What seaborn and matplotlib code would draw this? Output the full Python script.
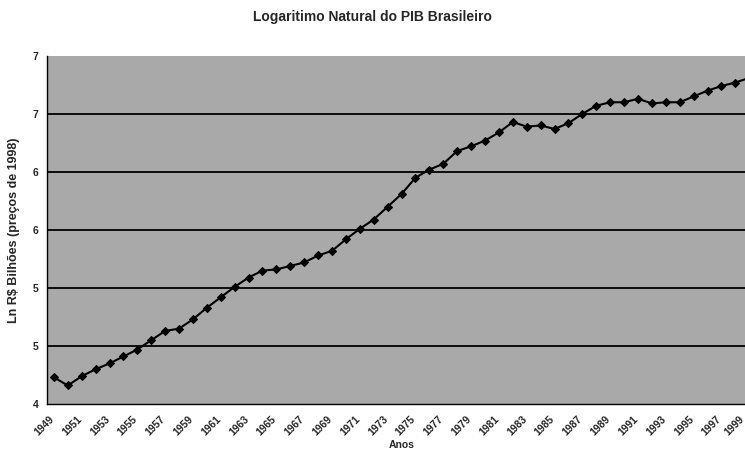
import math
import numpy as np
import pandas as pd
import seaborn as sns
import matplotlib
matplotlib.use("Agg")
import matplotlib.pyplot as plt
from matplotlib.ticker import FuncFormatter, FixedLocator
from matplotlib.transforms import ScaledTranslation

years = list(range(1949, 2000))
ln_pib = [4.23, 4.16, 4.24, 4.30, 4.35, 4.41, 4.47, 4.55, 4.63, 4.65,
          4.73, 4.83, 4.92, 5.01, 5.09, 5.15, 5.16, 5.19, 5.22, 5.28,
          5.32, 5.42, 5.51, 5.59, 5.70, 5.81, 5.95, 6.02, 6.07, 6.18,
          6.22, 6.27, 6.34, 6.43, 6.39, 6.40, 6.37, 6.42, 6.50, 6.57,
          6.60, 6.60, 6.63, 6.59, 6.60, 6.60, 6.65, 6.70, 6.74, 6.77,
          6.81]
y_ticks = [4.0, 4.5, 5.0, 5.5, 6.0, 6.5, 7.0]

df = pd.DataFrame({"ano": years, "ln_pib": ln_pib})

sns.set_style("white")
plt.rcParams['font.family'] = ['Liberation Sans', 'DejaVu Sans']
plt.rcParams['font.weight'] = 'bold'

fig = plt.figure(figsize=(7.45, 4.54), dpi=100)
ax = fig.add_axes([0.063, 0.110, 0.952, 0.767])
ax.set_facecolor('#a9a9a9')

# horizontal grid lines (black, Excel style)
for v in y_ticks[1:-1]:
    ax.axhline(v, color='black', lw=1.3, zorder=1)

sns.lineplot(data=df, x="ano", y="ln_pib", ax=ax, color='black', lw=1.5,
             marker='D', markersize=4, markeredgecolor='black', zorder=3)

ax.set_xlim(1948.5, 1999.5)
ax.set_ylim(4, 7)

# y labels rounded half up, as Excel does with 0 decimals
ax.yaxis.set_major_locator(FixedLocator(y_ticks))
ax.yaxis.set_major_formatter(FuncFormatter(lambda v, p: str(int(math.floor(v + 0.5)))))

# x: labels every 2 years, tick marks between categories
ax.set_xticks(years[::2])
ax.set_xticklabels([str(y) for y in years[::2]], rotation=45, ha='right',
                   rotation_mode='anchor')
ax.set_xticks(np.arange(1948.5, 2000, 1), minor=True)
ax.tick_params(axis='x', which='major', length=0, pad=7, labelsize=7.5)
ax.tick_params(axis='x', which='minor', length=3, width=0.8, color='black',
               direction='out')
ax.tick_params(axis='y', which='major', length=3, width=0.8, color='black',
               direction='out', pad=3, labelsize=7.5)
xlabels = ax.get_xticklabels()
for i, lbl in enumerate(xlabels):
    dx = -5 if i < len(xlabels) - 1 else -10  # keep last label inside the figure
    lbl.set_transform(lbl.get_transform() + ScaledTranslation(dx / 100, 0, fig.dpi_scale_trans))

for side in ['top', 'right']:
    ax.spines[side].set_visible(False)
for side in ['left', 'bottom']:
    ax.spines[side].set_color('black')
    ax.spines[side].set_linewidth(1.0)

ax.set_xlabel("Anos", fontsize=7.5, fontweight='bold', labelpad=2)
ax.set_ylabel(r"Ln R\$ Bilhões (preços de 1998)", fontsize=9,
              fontweight='bold', labelpad=9)
fig.text(0.5, 0.962, "Logaritimo Natural do PIB Brasileiro", ha='center',
         va='center', fontsize=10, fontweight='bold')

fig.savefig("out.png", dpi=100)
